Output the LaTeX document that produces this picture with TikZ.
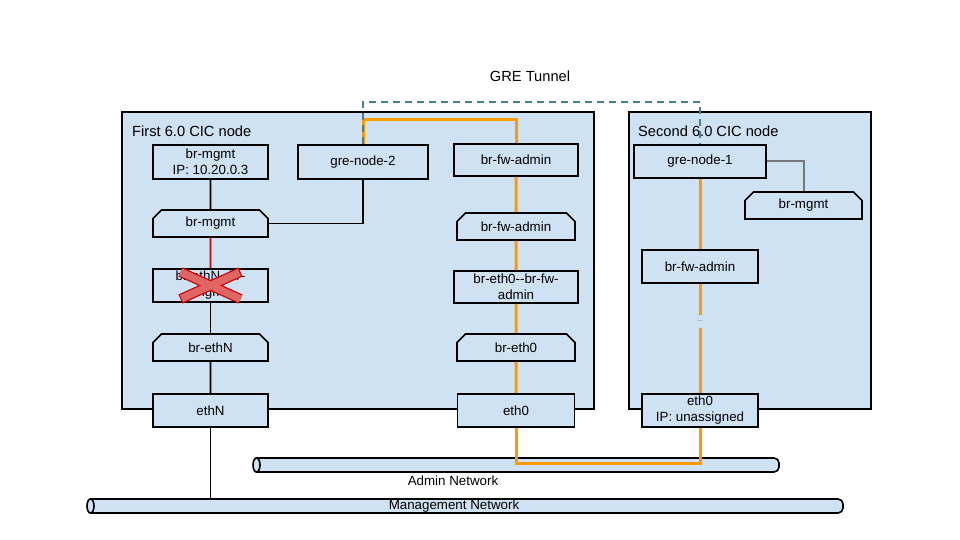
\documentclass[tikz,border=0pt]{standalone}
\usepackage{fontspec}
\setmainfont{Liberation Sans}
\usetikzlibrary{shapes.misc}
\definecolor{boxfill}{HTML}{CFE2F3}
\definecolor{wire}{HTML}{FF9900}
\definecolor{tunnelc}{HTML}{45818E}
\definecolor{cutc}{HTML}{CC0000}
\definecolor{crossfill}{HTML}{E06666}
\definecolor{greylink}{HTML}{777777}
% two hyphens kept apart so they are not joined into a dash
\newcommand{\dblhyph}{-\kern0pt-}

\begin{document}
\begin{tikzpicture}[x=1pt,y=-1pt,
  lbl/.style={font=\fontsize{13.33}{16}\selectfont},
  heading/.style={font=\fontsize{14.67}{17}\selectfont},
  hostbox/.style={draw, line width=1.7pt, fill=boxfill},
  box/.style={rectangle, draw, line width=1.7pt, fill=boxfill, lbl, align=center, inner sep=1pt},
  bridge/.style={chamfered rectangle, chamfered rectangle corners={north west,north east},
    chamfered rectangle xsep=5pt, draw, line width=1.7pt, fill=boxfill, lbl, inner sep=1pt},
  link/.style={line width=1.9pt, black},
  cutlink/.style={line width=1.9pt, cutc},
  greyl/.style={line width=2pt, greylink},
  admin/.style={line width=3pt, wire},
  tunnel/.style={line width=1.7pt, tunnelc, dash pattern=on 7pt off 5pt},
  net/.style={draw, line width=1.6pt, fill=boxfill},
  netarea/.style={draw=none, inner sep=0pt},
]
\useasboundingbox (0,0) rectangle (960,540);

% host frames
\draw[hostbox] (122,112) rectangle (594,409);
\draw[hostbox] (629,112) rectangle (871,409);
\node[heading, anchor=west, inner sep=0pt] (host1) at (132,131) {First 6.0 CIC node};
\node[heading, anchor=west, inner sep=0pt] (host2) at (638,131) {Second 6.0 CIC node};

% networks
\filldraw[net] (256.5,458) {[rounded corners=5pt] -- (779,458) -- (779,472)} -- (256.5,472) -- cycle;
\filldraw[net] (256.5,465) ellipse [x radius=3.5pt, y radius=7pt];
\filldraw[net] (90.5,499) {[rounded corners=5pt] -- (843,499) -- (843,513)} -- (90.5,513) -- cycle;
\filldraw[net] (90.5,506) ellipse [x radius=3.5pt, y radius=7pt];
\node[netarea, minimum width=526pt, minimum height=14pt] (adminnet) at (516,465) {};
\node[netarea, minimum width=756pt, minimum height=14pt] (mgmtnet) at (465,506) {};

% first node
\node[box, minimum width=115pt, minimum height=34pt] (mgmtip) at (210.5,162) {br-mgmt\\IP: 10.20.0.3};
\node[box, minimum width=130pt, minimum height=34pt] (gre2) at (363,162) {gre-node-2};
\node[bridge, minimum width=115pt, minimum height=27pt] (brmgmt) at (210.5,223.5) {br-mgmt};
\node[box, minimum width=115pt, minimum height=33pt] (ethNmgmt) at (210.5,285.5) {br-ethN\dblhyph br-\\mgmt};
\node[bridge, minimum width=115pt, minimum height=27pt] (brethN) at (210.5,347.5) {br-ethN};
\node[box, minimum width=115pt, minimum height=33pt] (ethN) at (210.5,410.5) {ethN};

\node[box, minimum width=124pt, minimum height=32pt] (fwadmin) at (516,160) {br-fw-admin};
\node[bridge, minimum width=118pt, minimum height=27pt] (brfw) at (516,226.5) {br-fw-admin};
\node[box, minimum width=124pt, minimum height=32pt] (breth0fw) at (516,287) {br-eth0\dblhyph br-fw-\\admin};
\node[bridge, minimum width=118pt, minimum height=27pt] (breth0) at (516,347.5) {br-eth0};
\node[box, minimum width=117pt, minimum height=33pt] (eth0) at (516,410.5) {eth0};

% second node
\node[box, minimum width=132pt, minimum height=33pt] (gre1) at (700,161.5) {gre-node-1};
\node[bridge, minimum width=117pt, minimum height=27pt] (brmgmt2) at (803.5,205.5) {br-mgmt};
\node[box, minimum width=116pt, minimum height=33pt] (fwadmin2) at (700,266.5) {br-fw-admin};
\node[font=\fontsize{5}{5}\selectfont, inner sep=0pt, minimum height=13pt] (dots) at (700,321.5) {...};
\node[box, minimum width=116pt, minimum height=33pt] (eth0b) at (700,410.5) {eth0\\IP: unassigned};

% network labels
\node[heading] (tunnellbl) at (530,76) {GRE Tunnel};
\node[lbl] (adminlbl) at (453,481) {Admin Network};
\node[lbl] (mgmtlbl) at (454,506.5) {Management Network};

% management path
\draw[link] (mgmtip) -- (brmgmt);
\draw[link] (gre2.south) |- (brmgmt.east);
\draw[cutlink] (brmgmt) -- (ethNmgmt);
\draw[link] (ethNmgmt) -- (brethN);
\draw[link] (brethN) -- (ethN);
\draw[link] (ethN) -- (ethN |- mgmtnet.north);
\draw[greyl] (gre1.east) -| (brmgmt2.north);

% admin path
\coordinate (looptop) at (440,120);
\coordinate (loopbottom) at (600,463);
\draw[admin] (gre2.north) |- (looptop) -| (fwadmin.north);
\draw[admin] (fwadmin) -- (brfw);
\draw[admin] (brfw) -- (breth0fw);
\draw[admin] (breth0fw) -- (breth0);
\draw[admin] (breth0) -- (eth0);
\draw[admin] (eth0.south) |- (loopbottom) -| (eth0b.south);
\draw[admin] (eth0b) -- (dots);
\draw[admin] (dots) -- (fwadmin2);
\draw[admin] (fwadmin2) -- (gre1);

% tunnel between the two gre endpoints
\coordinate (tunneltop) at (530,102);
\draw[tunnel] (gre2.north) |- (tunneltop) -| (gre1.north);

% removed patch port
\coordinate (xa) at ([shift={(-30,-13.5)}]ethNmgmt.center);
\coordinate (xb) at ([shift={(30,13.5)}]ethNmgmt.center);
\coordinate (xc) at ([shift={(30,-13.5)}]ethNmgmt.center);
\coordinate (xd) at ([shift={(-30,13.5)}]ethNmgmt.center);
\draw[line width=10pt, cutc] (xa) -- (xb) (xc) -- (xd);
\draw[line width=7.5pt, crossfill, shorten <=1.2pt, shorten >=1.2pt] (xa) -- (xb) (xc) -- (xd);
\end{tikzpicture}
\end{document}
